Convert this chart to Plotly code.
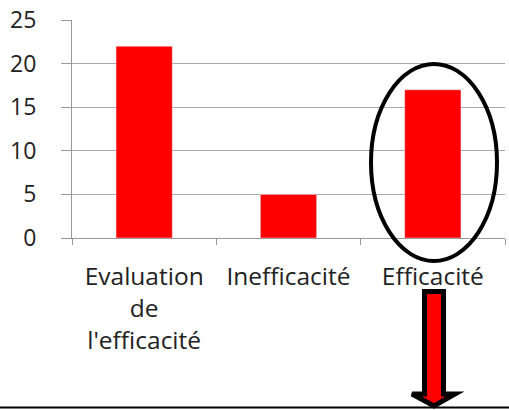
import plotly.graph_objects as go

categories = ["Evaluation<br>de<br>l'efficacité", "Inefficacité", "Efficacité"]
values = [22, 5, 17]
y_ticks = [0, 5, 10, 15, 20, 25]

W, H = 509, 410
L, R, T, B = 72, 4, 20, 172
pw, ph = W - L - R, H - T - B

def px(x):
    return (x - L) / pw

def py(y):
    return (H - B - y) / ph

fig = go.Figure(go.Bar(x=categories, y=values, marker_color="#FF0000", width=0.39))

fam = "Open Sans, DejaVu Sans, sans-serif"

fig.update_layout(
    width=W, height=H,
    margin=dict(l=L, r=R, t=T, b=B, autoexpand=False),
    plot_bgcolor="white", paper_bgcolor="white",
    showlegend=False,
    font=dict(family=fam, size=22, color="#222222"),
)
fig.update_xaxes(
    showgrid=False, showline=True, linecolor="#999999", linewidth=1,
    ticks="outside", ticklen=6, tickcolor="#999999", tickson="boundaries",
    tickfont=dict(family=fam, size=24.5, color="#222222"), tickangle=0,
    automargin=False, ticklabelstandoff=17,
)
fig.update_yaxes(
    range=[0, 25], tickvals=y_ticks, showgrid=True, gridcolor="#AAAAAA", gridwidth=1,
    showline=True, linecolor="#999999", linewidth=1,
    ticks="outside", ticklen=10, tickcolor="#999999",
    tickfont=dict(family=fam, size=23, color="#222222"),
    zeroline=False, ticklabelstandoff=20, automargin=False,
)

# Ellipse around the last bar
fig.add_shape(type="circle", xref="paper", yref="paper",
              x0=px(371), x1=px(497), y0=py(261), y1=py(64),
              line=dict(color="black", width=4))

# Downward arrow
sx0, sx1 = 424.5, 443.5
hx0, hx1 = 412, 455
ytop, yhead, ytip = 291.5, 394, 406
path = (f"M {px(sx0)} {py(ytop)} L {px(sx1)} {py(ytop)} L {px(sx1)} {py(yhead)} "
        f"L {px(hx1)} {py(yhead)} L {px((sx0+sx1)/2)} {py(ytip)} L {px(hx0)} {py(yhead)} "
        f"L {px(sx0)} {py(yhead)} Z")
fig.add_shape(type="path", xref="paper", yref="paper", path=path,
              fillcolor="#FF0000", line=dict(color="black", width=5), layer="above")

# Bottom horizontal line
fig.add_shape(type="line", xref="paper", yref="paper",
              x0=px(0), x1=px(509), y0=py(407.5), y1=py(407.5),
              line=dict(color="black", width=2))

fig.write_html("out.html", config={"displayModeBar": False},
               post_script="document.body.style.margin='0';document.body.style.overflow='hidden';")
